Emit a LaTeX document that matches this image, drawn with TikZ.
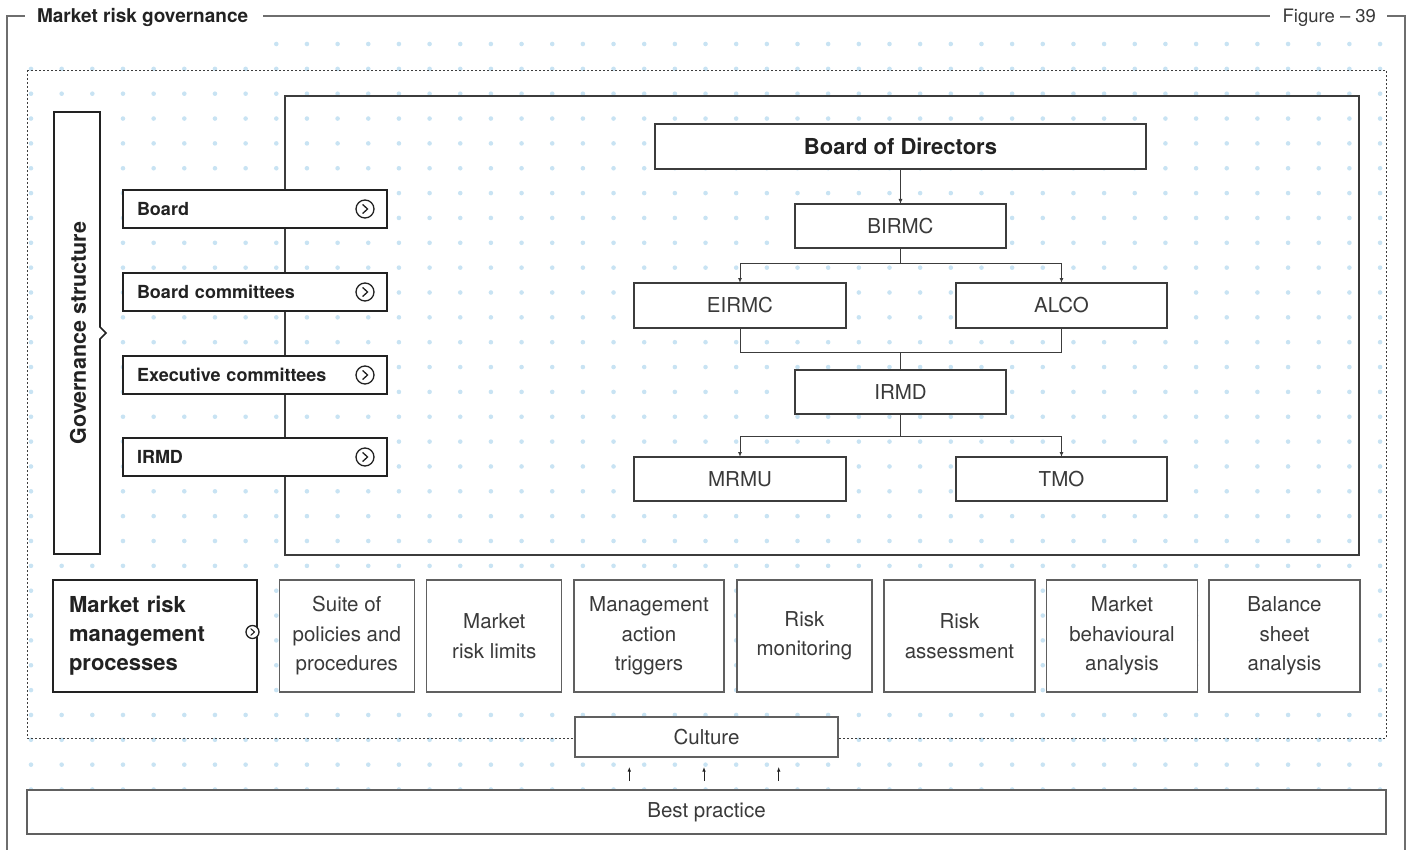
\documentclass[tikz,border=0pt]{standalone}
\usepackage{fontspec}
\setmainfont{TeX Gyre Heros}
\usetikzlibrary{arrows.meta,calc}
\definecolor{dotc}{HTML}{C8E3F3}
\definecolor{ink}{HTML}{222222}
\definecolor{txt}{HTML}{3A3A3A}
\definecolor{edge}{HTML}{3C3C3C}
\definecolor{soft}{HTML}{606060}
\definecolor{framec}{HTML}{6E6E6E}

\begin{document}
\begin{tikzpicture}[x=1pt,y=-1pt,
  every node/.style={inner sep=0pt, outer sep=0pt},
  regtxt/.style={font=\fontsize{20.5}{29.5}\selectfont, text=txt},
  orgbox/.style={draw=edge, line width=1.2pt, fill=white, regtxt},
  govbox/.style={draw=ink, line width=1.6pt, fill=white, text width=236pt,
    inner xsep=14pt, minimum height=38pt, align=left,
    font=\fontsize{18}{22}\selectfont\bfseries, text=ink},
  chev/.style={circle, draw=ink, line width=1.3pt, fill=white},
  procbox/.style={draw=soft, line width=1.2pt, fill=white, minimum height=112pt,
    align=center, regtxt},
  link/.style={draw=edge, line width=1pt},
  arr/.style={link, -{Latex[length=5pt,width=4pt]}},
  uparr/.style={draw=ink, line width=0.8pt, -{Latex[length=4.5pt,width=3.5pt]}}
]
\useasboundingbox (0,0) rectangle (1407,850);

% dotted background grid
\foreach \k in {8,...,44} {\fill[dotc] (31+30.66*\k,44) circle (2.3pt);}
\foreach \j in {1,...,30} {
  \foreach \k in {0,...,44} {\fill[dotc] (31+30.66*\k,44+24.85*\j) circle (2.3pt);}
}

% outer frame with title and figure number
\node[anchor=base west, font=\fontsize{19}{22}\selectfont\bfseries, text=ink] (title) at (37,22.5) {Market risk governance};
\node[anchor=base east, font=\fontsize{18.5}{22}\selectfont, text=txt] (fignum) at (1376,22.5) {Figure – 39};
\draw[framec, line width=1.1pt] (7,850) -- (7,16) -- (25,16);
\draw[framec, line width=1.1pt] (263,16) -- (1270,16);
\draw[framec, line width=1.1pt] (1387,16) -- (1405,16) -- (1405,850);

% dotted boundary of the governance area
\draw[edge, line width=0.9pt, dash pattern=on 2pt off 2pt] (27,70) rectangle (1386,738);

% container of the organisation chart
\draw[edge, line width=1.2pt] (285,96) rectangle (1359,555);

% governance structure label with notch
\draw[ink, line width=1.6pt, fill=white] (54,112) -- (100,112) -- (100,327) -- (106,333)
  -- (100,339) -- (100,554) -- (54,554) -- cycle;
\node[rotate=90, font=\fontsize{21.5}{24}\selectfont\bfseries, text=ink] (gov) at (78,333) {Governance structure};

% governance levels
\foreach \nm/\yy/\lab in {lvA/209/Board, lvB/292/Board committees, lvC/375/Executive committees, lvD/457/IRMD} {
  \node[govbox, anchor=west] (\nm) at (123,\yy) {\lab};
  \node[chev, minimum size=18pt] (\nm c) at (365,\yy) {};
  \draw[ink, line width=1.3pt, line join=round, line cap=round]
    ([shift={(-2.2,-4.3)}]\nm c.center) -- ([shift={(2.6,0)}]\nm c.center) -- ([shift={(-2.2,4.3)}]\nm c.center);
}

% organisation chart
\node[orgbox, minimum width=491pt, minimum height=45pt, font=\fontsize{22}{26}\selectfont\bfseries, text=ink] (bod) at (900.5,146.5) {Board of Directors};
\node[orgbox, minimum width=211pt, minimum height=44pt] (birmc) at (900.5,226) {BIRMC};
\node[orgbox, minimum width=212pt, minimum height=45pt] (eirmc) at (740,305.5) {EIRMC};
\node[orgbox, minimum width=211pt, minimum height=45pt] (alco) at (1061.5,305.5) {ALCO};
\node[orgbox, minimum width=211pt, minimum height=44pt] (irmd) at (900.5,392) {IRMD};
\node[orgbox, minimum width=212pt, minimum height=44pt] (mrmu) at (740,479) {MRMU};
\node[orgbox, minimum width=211pt, minimum height=44pt] (tmo) at (1061.5,479) {TMO};

\draw[arr] (bod.south) -- (birmc.north);
\draw[arr] (birmc.south) -- ++(0,15) -| (eirmc.north);
\draw[arr] (birmc.south) -- ++(0,15) -| (alco.north);
\draw[link] (eirmc.south) -- ++(0,24) -| (alco.south);
\draw[link] (irmd.north) -- ++(0,-18);
\draw[arr] (irmd.south) -- ++(0,22) -| (mrmu.north);
\draw[arr] (irmd.south) -- ++(0,22) -| (tmo.north);

% market risk management processes
\node[draw=ink, line width=1.8pt, fill=white, minimum height=112pt, text width=172pt,
  inner xsep=16pt, align=left, font=\fontsize{22}{29}\selectfont\bfseries, text=ink]
  (mrm) at (155,636) {Market risk\\management\\processes};
\node[chev, minimum size=13pt] (mrmc) at (252.5,632) {};
\draw[ink, line width=1.1pt, line join=round, line cap=round]
  ([shift={(-1.6,-3.2)}]mrmc.center) -- ([shift={(2,0)}]mrmc.center) -- ([shift={(-1.6,3.2)}]mrmc.center);

\node[procbox, minimum width=135pt] (suite) at (346.8,636) {Suite of\\policies and\\procedures};
\node[procbox, minimum width=135pt] (limits) at (494.3,636) {Market\\risk limits};
\node[procbox, minimum width=150pt] (trig) at (649,636) {Management\\action\\triggers};
\node[procbox, minimum width=135pt] (monit) at (804.4,636) {Risk\\monitoring};
\node[procbox, minimum width=151pt] (assess) at (959.5,636) {Risk\\assessment};
\node[procbox, minimum width=151pt] (behav) at (1122,636) {Market\\behavioural\\analysis};
\node[procbox, minimum width=151pt] (bsheet) at (1284.5,636) {Balance\\sheet\\analysis};

% culture and best practice
\node[draw=soft, line width=1.2pt, fill=white, minimum width=263pt, minimum height=40pt, regtxt] (culture) at (706.5,737) {Culture};
\node[draw=soft, line width=1.2pt, fill=white, minimum width=1359pt, minimum height=44pt, regtxt] (best) at (706.5,812) {Best practice};

\coordinate (uA) at (629.3,781); \coordinate (uAt) at (629.3,767);
\coordinate (uB) at (704,781);   \coordinate (uBt) at (704,767);
\coordinate (uC) at (778.7,781); \coordinate (uCt) at (778.7,767);
\draw[uparr] (uA) -- (uAt);
\draw[uparr] (uB) -- (uBt);
\draw[uparr] (uC) -- (uCt);
\end{tikzpicture}
\end{document}
